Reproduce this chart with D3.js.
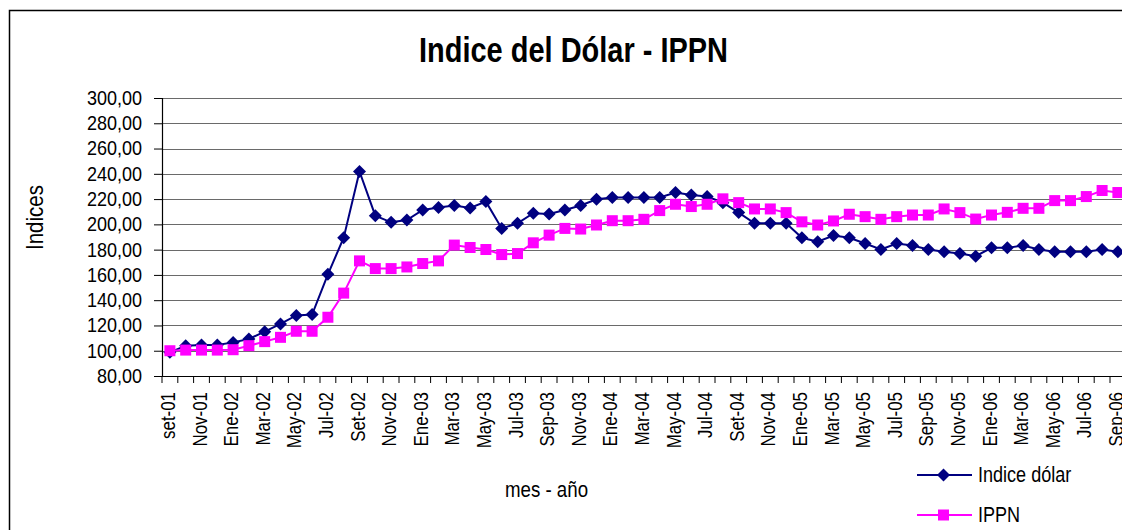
<!DOCTYPE html>
<html>
<head>
<meta charset="utf-8">
<script src="https://cdn.jsdelivr.net/npm/d3@7"></script>
<style>
  html, body { margin: 0; padding: 0; background: #fff; }
  svg { display: block; }
  text { font-family: "Liberation Sans", Arial, sans-serif; fill: #000; }
</style>
</head>
<body>
<svg id="chart" width="1122" height="530"></svg>
<script>
const categories = ["set-01","Oct-01","Nov-01","Dic-01",
  "Ene-02","Feb-02","Mar-02","Abr-02","May-02","Jun-02","Jul-02","Ago-02","Set-02","Oct-02","Nov-02","Dic-02",
  "Ene-03","Feb-03","Mar-03","Abr-03","May-03","Jun-03","Jul-03","Ago-03","Sep-03","Oct-03","Nov-03","Dic-03",
  "Ene-04","Feb-04","Mar-04","Abr-04","May-04","Jun-04","Jul-04","Ago-04","Set-04","Oct-04","Nov-04","Dic-04",
  "Ene-05","Feb-05","Mar-05","Abr-05","May-05","Jun-05","Jul-05","Ago-05","Sep-05","Oct-05","Nov-05","Dic-05",
  "Ene-06","Feb-06","Mar-06","Abr-06","May-06","Jun-06","Jul-06","Ago-06","Sep-06"];

const indiceDolar = [98.7,104,104.5,104.5,106.6,109.3,115.1,121.2,127.9,128.6,
  160.5,189.4,241.9,206.9,201.6,203.4,211.4,213.3,214.9,213.0,
  218,196.8,200.8,208.8,208.2,211.4,214.9,219.9,221.2,221.2,
  221.2,221.2,225.2,223.3,222,217.2,209.3,200.8,200.8,200.8,
  189.4,186.2,191.2,189.4,184.9,180.1,184.9,183.3,180.1,178.3,
  177,174.8,181.4,181.4,183.3,180.1,178.3,178.3,178.3,180.1,178.3];

const ippn = [100,100.5,100.5,100.5,100.8,104,107.2,110.6,115.4,115.4,
  126.5,145.6,171.1,165,165,166.3,169,171.1,183.6,181.7,
  180.1,176.1,176.9,185.4,191.5,196.8,196.3,199.5,202.9,202.9,
  204,210.9,215.9,214.1,215.9,220.2,217.2,212.2,212.2,209.3,
  202,199.5,202.7,208,206.1,204,206.1,207.4,207.4,212.2,
  209.3,204.2,207.4,209.5,212.7,212.7,218.8,218.8,222,226.8,225.2];

const yTicks = [80,100,120,140,160,180,200,220,240,260,280,300];
const seriesNames = ["Indice dólar", "IPPN"];
const chartTitle = "Indice del Dólar - IPPN";
const xTitle = "mes - año";
const yTitle = "Indices";

const svg = d3.select("#chart");
const plotLeft = 162, plotTop = 98, plotBottom = 376;
const step = 15.8;
const plotRight = plotLeft + categories.length * step;

const x = d3.scaleBand().domain(categories).range([plotLeft, plotRight]).paddingInner(0).paddingOuter(0);
const y = d3.scaleLinear().domain([80, 300]).range([plotBottom, plotTop]);
const fmt = d3.formatLocale({decimal: ",", thousands: ".", grouping: [3], currency: ["", ""]}).format(".2f");

// condense text horizontally (emulates a narrow face)
function condense(sel, k) {
  sel.each(function() {
    const w = this.getComputedTextLength();
    if (w > 0) d3.select(this).attr("textLength", w * k).attr("lengthAdjust", "spacingAndGlyphs");
  });
}

// outer border
svg.append("rect").attr("x", 9.5).attr("y", 10.5).attr("width", 1300).attr("height", 700)
  .attr("fill", "#fff").attr("stroke", "#000").attr("stroke-width", 1.5);

// gridlines
svg.append("g").selectAll("line").data(yTicks.filter(d => d > 80)).join("line")
  .attr("x1", plotLeft).attr("x2", plotRight).attr("y1", d => Math.round(y(d)) + 0.5).attr("y2", d => Math.round(y(d)) + 0.5)
  .attr("stroke", "#6a6a6a").attr("stroke-width", 1.2);

// y axis
const yAxis = d3.axisLeft(y).tickValues(yTicks).tickFormat(fmt).tickSize(8).tickPadding(12);
const gy = svg.append("g").attr("transform", `translate(${plotLeft},0)`).call(yAxis);
gy.select(".domain").attr("stroke", "#000").attr("stroke-width", 1.2);
gy.selectAll(".tick line").attr("stroke", "#000");
gy.selectAll(".tick text").style("font-size", "20px").style("font-family", "'Liberation Sans', Arial, sans-serif").attr("fill", "#000");
condense(gy.selectAll(".tick text"), 0.9);

// x axis
const xAxis = d3.axisBottom(x).tickSize(0).tickFormat((d, i) => i % 2 === 0 ? d : "");
const gx = svg.append("g").attr("transform", `translate(0,${plotBottom})`).call(xAxis);
gx.select(".domain").attr("stroke", "#000").attr("stroke-width", 1.2);
gx.selectAll(".tick text")
  .style("font-size", "20px").style("font-family", "'Liberation Sans', Arial, sans-serif").attr("fill", "#000")
  .attr("text-anchor", "end")
  .attr("transform", "rotate(-90)")
  .attr("x", -16).attr("y", -2).attr("dy", "0.35em");
condense(gx.selectAll(".tick text"), 0.845);
// tick marks at category boundaries
gx.append("g").selectAll("line").data(d3.range(categories.length + 1)).join("line")
  .attr("x1", i => plotLeft + i * x.step()).attr("x2", i => plotLeft + i * x.step())
  .attr("y1", 0).attr("y2", 7).attr("stroke", "#000");

const cx = d => x(d) + x.bandwidth() / 2;

// lines
const line = d3.line().x(d => cx(d[0])).y(d => y(d[1]));
const dolPts = categories.map((c, i) => [c, indiceDolar[i]]);
const ippPts = categories.map((c, i) => [c, ippn[i]]);

svg.append("path").datum(dolPts).attr("d", line).attr("fill", "none").attr("stroke", "#000080").attr("stroke-width", 2);
svg.append("path").datum(ippPts).attr("d", line).attr("fill", "none").attr("stroke", "#ff00ff").attr("stroke-width", 2);

const diamond = (px, py, r) => `M${px},${py - r}L${px + r},${py}L${px},${py + r}L${px - r},${py}Z`;
svg.append("g").selectAll("path").data(dolPts).join("path")
  .attr("d", d => diamond(cx(d[0]), y(d[1]), 6.5)).attr("fill", "#000080");
svg.append("g").selectAll("rect").data(ippPts).join("rect")
  .attr("x", d => cx(d[0]) - 5.5).attr("y", d => y(d[1]) - 5.5).attr("width", 11).attr("height", 11).attr("fill", "#ff00ff");

// title
svg.append("text").attr("x", 573.5).attr("y", 62).attr("text-anchor", "middle")
  .style("font-size", "35px").style("font-weight", "bold").text(chartTitle)
  .attr("textLength", 309).attr("lengthAdjust", "spacingAndGlyphs");

// axis titles
const yt = svg.append("text").attr("transform", "translate(42.5,217.5) rotate(-90)").attr("text-anchor", "middle")
  .style("font-size", "24px").text(yTitle);
condense(yt, 0.855);
const xt = svg.append("text").attr("x", 546.5).attr("y", 497).attr("text-anchor", "middle")
  .style("font-size", "22px").text(xTitle);
condense(xt, 0.85);

// legend
const lg = svg.append("g");
lg.append("line").attr("x1", 917).attr("x2", 972).attr("y1", 475).attr("y2", 475).attr("stroke", "#000080").attr("stroke-width", 2);
lg.append("path").attr("d", diamond(943.5, 475, 6.5)).attr("fill", "#000080");
lg.append("text").attr("x", 978).attr("y", 482).style("font-size", "22px").text(seriesNames[0]);
lg.append("line").attr("x1", 917).attr("x2", 972).attr("y1", 515).attr("y2", 515).attr("stroke", "#ff00ff").attr("stroke-width", 2);
lg.append("rect").attr("x", 938).attr("y", 509.5).attr("width", 11).attr("height", 11).attr("fill", "#ff00ff");
lg.append("text").attr("x", 978).attr("y", 522).style("font-size", "22px").text(seriesNames[1]);
condense(lg.selectAll("text"), 0.82);
</script>
</body>
</html>
